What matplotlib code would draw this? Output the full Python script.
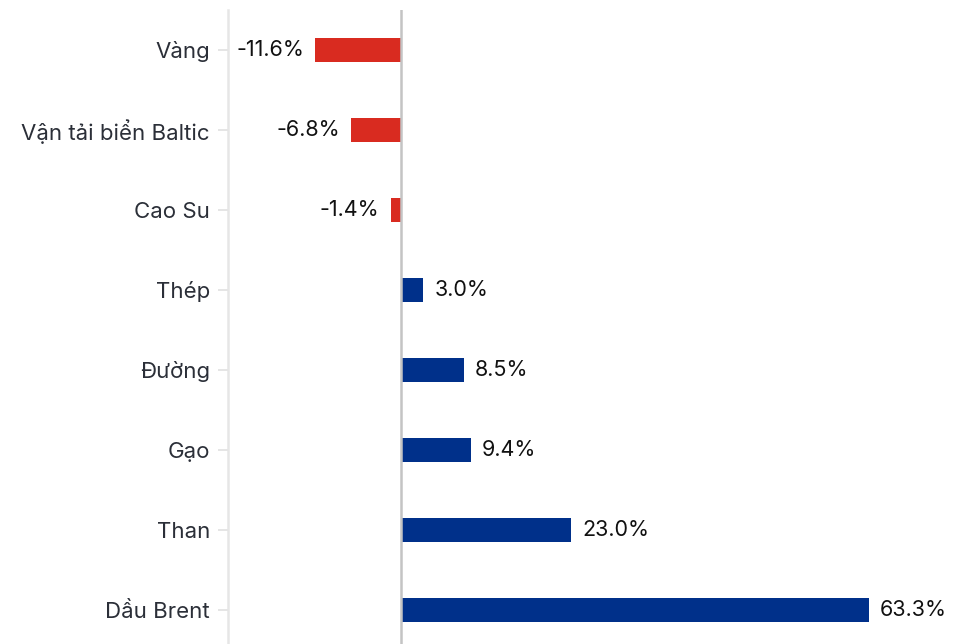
import matplotlib
matplotlib.use("Agg")
import matplotlib.pyplot as plt

# data
categories = ["Vàng", "Vận tải biển Baltic", "Cao Su", "Thép", "Đường", "Gạo", "Than", "Dầu Brent"]
values = [-11.6, -6.8, -1.4, 3.0, 8.5, 9.4, 23.0, 63.3]

plt.rcParams["font.family"] = ["Inter", "DejaVu Sans"]

fig = plt.figure(figsize=(9.66, 6.44), dpi=100)
ax = fig.add_axes([228 / 966, 0, 1 - 228 / 966, 634 / 644])

colors = ["#d92b20" if v < 0 else "#00308a" for v in values]
ypos = range(len(categories))
ax.barh(ypos, values, height=0.3, color=colors, zorder=2)

for y, v in zip(ypos, values):
    label = f"{v:.1f}%"
    if v < 0:
        ax.text(v - 1.5, y, label, ha="right", va="center", fontsize=15.5, color="#111111")
    else:
        ax.text(v + 1.5, y, label, ha="left", va="center", fontsize=15.5, color="#111111")

ax.axvline(0, color="#c4c4c4", linewidth=1.8, zorder=3)

ax.set_xlim(-23.4, 76.4)
ax.set_ylim(7.425, -0.5)
ax.set_yticks(list(ypos))
ax.set_yticklabels(categories, fontsize=16, color="#2b2f38")
ax.set_xticks([])

for side in ["top", "right", "bottom"]:
    ax.spines[side].set_visible(False)
ax.spines["left"].set_color("#e6e6e6")
ax.spines["left"].set_linewidth(1.8)
ax.tick_params(axis="y", length=7, width=1.2, color="#e0e0e0", pad=6)

fig.savefig("out.png", dpi=100)
